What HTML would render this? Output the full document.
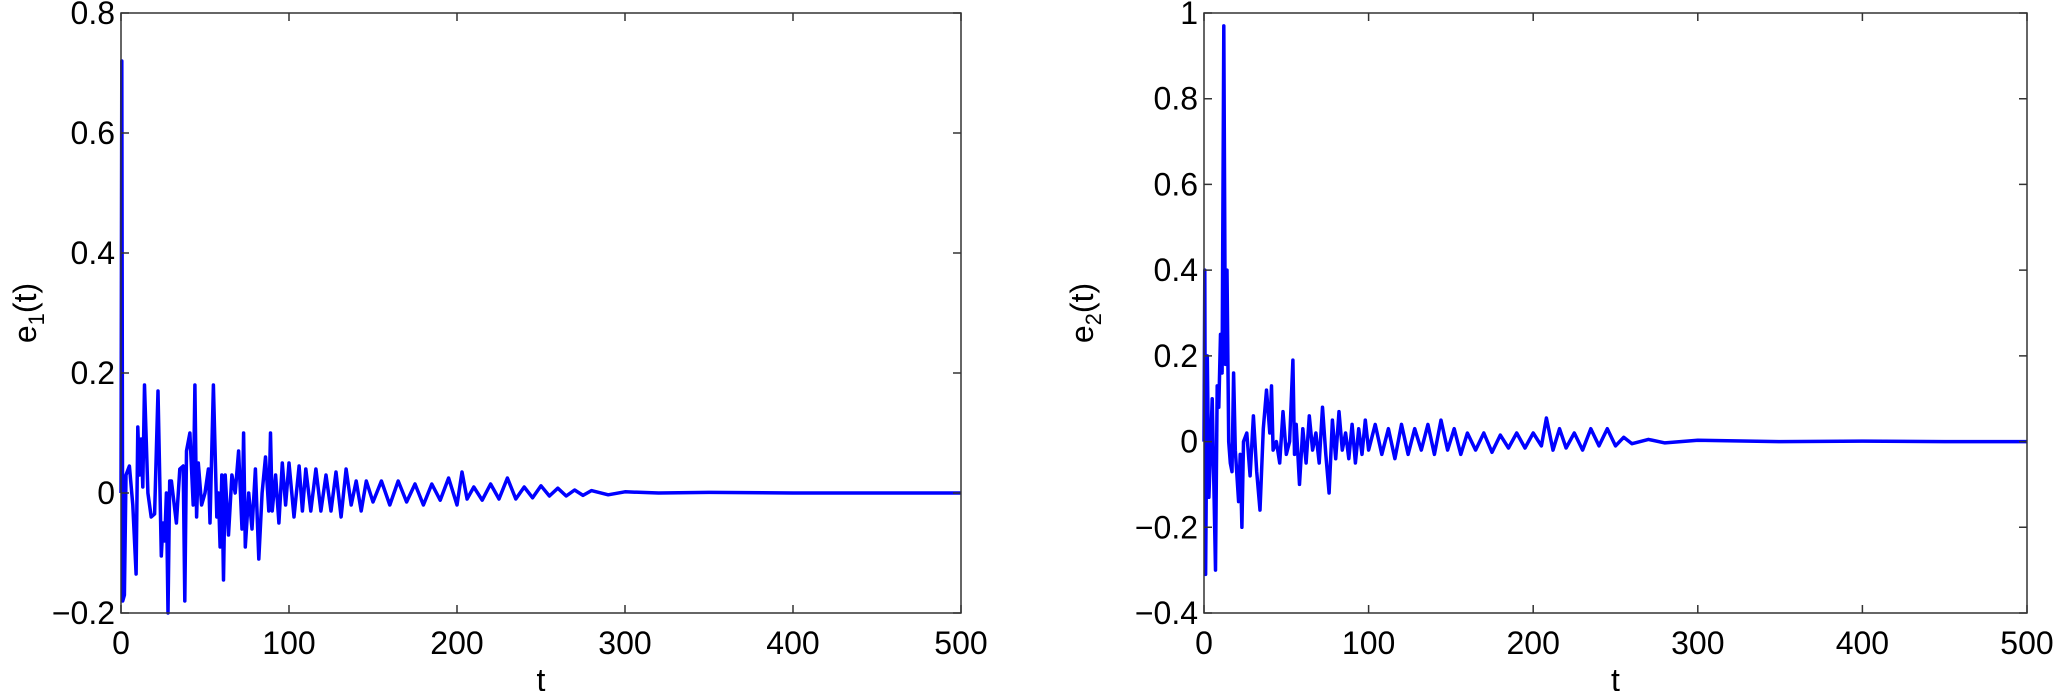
<!DOCTYPE html>
<html><head><meta charset="utf-8">
<style>
html,body{margin:0;padding:0;background:#fff;}
svg{display:block;}
text{font-family:"Liberation Sans",sans-serif;fill:#000;}
</style></head>
<body>
<svg id="fig" width="2058" height="691" viewBox="0 0 2058 691" xmlns="http://www.w3.org/2000/svg"></svg>
<script>
const xTicks = [0,100,200,300,400,500];
const e1Ticks = [-0.2,0,0.2,0.4,0.6,0.8];
const e2Ticks = [-0.4,-0.2,0,0.2,0.4,0.6,0.8,1];
const e1Labels = ["\u22120.2","0","0.2","0.4","0.6","0.8"];
const e2Labels = ["\u22120.4","\u22120.2","0","0.2","0.4","0.6","0.8","1"];
const e1T = [0,0.5,1,2,3,5,7,9,10,11,12,13,14,16,18,20,22,24,25,26,27,28,29,30,33,35,37,38,39,41,43,44,45,46,48,50,52,53,55,57,58,59,60,61,62,64,66,68,70,72,73,74,76,78,80,82,84,86,88,89,90,92,94,96,98,100,103,106,108,110,113,116,119,122,125,128,131,134,137,140,143,146,150,155,160,165,170,175,180,185,190,195,200,203,206,210,215,220,225,230,235,240,245,250,255,260,265,270,275,280,290,300,320,350,400,450,500];
const e1V = [0,0.72,-0.18,-0.17,0.03,0.045,-0.02,-0.135,0.11,0.03,0.09,0.01,0.18,0.0,-0.04,-0.035,0.17,-0.105,-0.05,-0.08,0.0,-0.2,0.02,0.02,-0.05,0.04,0.045,-0.18,0.07,0.1,-0.02,0.18,-0.04,0.05,-0.02,0.0,0.04,-0.05,0.18,-0.04,0.0,-0.09,0.03,-0.145,0.03,-0.07,0.03,0.0,0.07,-0.06,0.1,-0.09,0.0,-0.06,0.04,-0.11,0.0,0.06,-0.03,0.1,-0.03,0.03,-0.05,0.05,-0.02,0.05,-0.04,0.045,-0.03,0.04,-0.03,0.04,-0.03,0.03,-0.03,0.035,-0.04,0.04,-0.02,0.02,-0.03,0.02,-0.015,0.02,-0.02,0.02,-0.015,0.015,-0.02,0.015,-0.012,0.025,-0.02,0.035,-0.01,0.01,-0.012,0.015,-0.01,0.025,-0.01,0.01,-0.008,0.012,-0.005,0.008,-0.005,0.005,-0.004,0.004,-0.003,0.002,0,0.001,0,0,0];
const e2T = [0,0.5,1,2,3,5,7,8,9,10,11,12,13,14,15,16,17,18,19,21,22,23,24,26,28,30,32,34,36,38,40,41,42,44,46,48,50,52,54,55,56,58,60,62,64,66,68,70,72,74,76,78,80,82,84,86,88,90,92,94,96,98,100,104,108,112,116,120,124,128,132,136,140,144,148,152,156,160,165,170,175,180,185,190,195,200,205,208,212,216,220,225,230,235,240,245,250,255,260,270,280,300,350,400,450,500];
const e2V = [0,0.4,-0.31,0.2,-0.13,0.1,-0.3,0.13,0.08,0.25,0.16,0.97,0.18,0.4,0.0,-0.05,-0.07,0.16,-0.02,-0.14,-0.03,-0.2,0.0,0.02,-0.08,0.06,-0.07,-0.16,0.03,0.12,0.02,0.13,-0.02,0.0,-0.05,0.07,-0.03,0.0,0.19,-0.03,0.04,-0.1,0.03,-0.05,0.06,-0.02,0.02,-0.05,0.08,-0.03,-0.12,0.05,-0.04,0.07,-0.02,0.02,-0.04,0.04,-0.05,0.03,-0.03,0.05,-0.02,0.04,-0.03,0.03,-0.04,0.04,-0.03,0.03,-0.02,0.04,-0.03,0.05,-0.02,0.03,-0.03,0.02,-0.02,0.02,-0.025,0.015,-0.015,0.02,-0.015,0.02,-0.01,0.055,-0.02,0.03,-0.015,0.02,-0.02,0.03,-0.01,0.03,-0.01,0.01,-0.005,0.005,-0.003,0.003,0,0.001,0,0];

const svg = document.getElementById('fig');
const NS = 'http://www.w3.org/2000/svg';
function mk(tag, attrs){const e=document.createElementNS(NS,tag);for(const k in attrs)e.setAttribute(k,attrs[k]);svg.appendChild(e);return e;}

function drawPanel(prefix, L, R, T, B, ymin, ymax, yTicks, yLabels, ts, vs, labelX, sub){
  const sx = t => L + (t-0)/(500-0)*(R-L);
  const sy = v => B - (v-ymin)/(ymax-ymin)*(B-T);
  const n = Math.min(ts.length, vs.length);
  let d='';
  for(let i=0;i<n;i++) d += (i?'L':'M')+sx(ts[i]).toFixed(1)+' '+sy(vs[i]).toFixed(1);
  const p = mk('path',{d:d,fill:'none',stroke:'#0000ff','stroke-width':3.5,'stroke-linejoin':'round'});
  
  
  const f = mk('rect',{x:L,y:T,width:R-L,height:B-T,fill:'none',stroke:'#333','stroke-width':1.5});
  
  
  xTicks.forEach(t=>{
    const x=sx(t);
    const tk = mk('path',{d:`M${x} ${B}V${B-8}M${x} ${T}V${T+8}`,stroke:'#333','stroke-width':1.5});
    
    
    const tx = mk('text',{x:x,y:B+41,'font-size':32,'text-anchor':'middle'});
    tx.textContent=String(t);
    
    
  });
  yTicks.forEach((v,i)=>{
    const y=sy(v);
    const tk = mk('path',{d:`M${L} ${y}H${L+8}M${R} ${y}H${R-8}`,stroke:'#333','stroke-width':1.5});
    
    
    const tx = mk('text',{x:L-6,y:y+11,'font-size':32,'text-anchor':'end'});
    tx.textContent=yLabels[i];
    
    
  });
  const xt = mk('text',{x:(L+R)/2,y:B+78,'font-size':32,'text-anchor':'middle'});
  xt.textContent='t';
  
  
  const yt = mk('text',{x:0,y:0,'font-size':32,'text-anchor':'middle',transform:`translate(${labelX},${(T+B)/2}) rotate(-90)`});
  
  
  const s1=document.createElementNS(NS,'tspan');s1.textContent='e';yt.appendChild(s1);
  const s2=document.createElementNS(NS,'tspan');s2.setAttribute('font-size','22');s2.setAttribute('dy','8');s2.textContent=sub;yt.appendChild(s2);
  const s3=document.createElementNS(NS,'tspan');s3.setAttribute('dy','-8');s3.textContent='(t)';yt.appendChild(s3);
}
drawPanel('e1-chart',121,961,13,613,-0.2,0.8,e1Ticks,e1Labels,e1T,e1V,36,'1');
drawPanel('e2-chart',1204,2027,13,613,-0.4,1,e2Ticks,e2Labels,e2T,e2V,1093,'2');
</script>
</body></html>
